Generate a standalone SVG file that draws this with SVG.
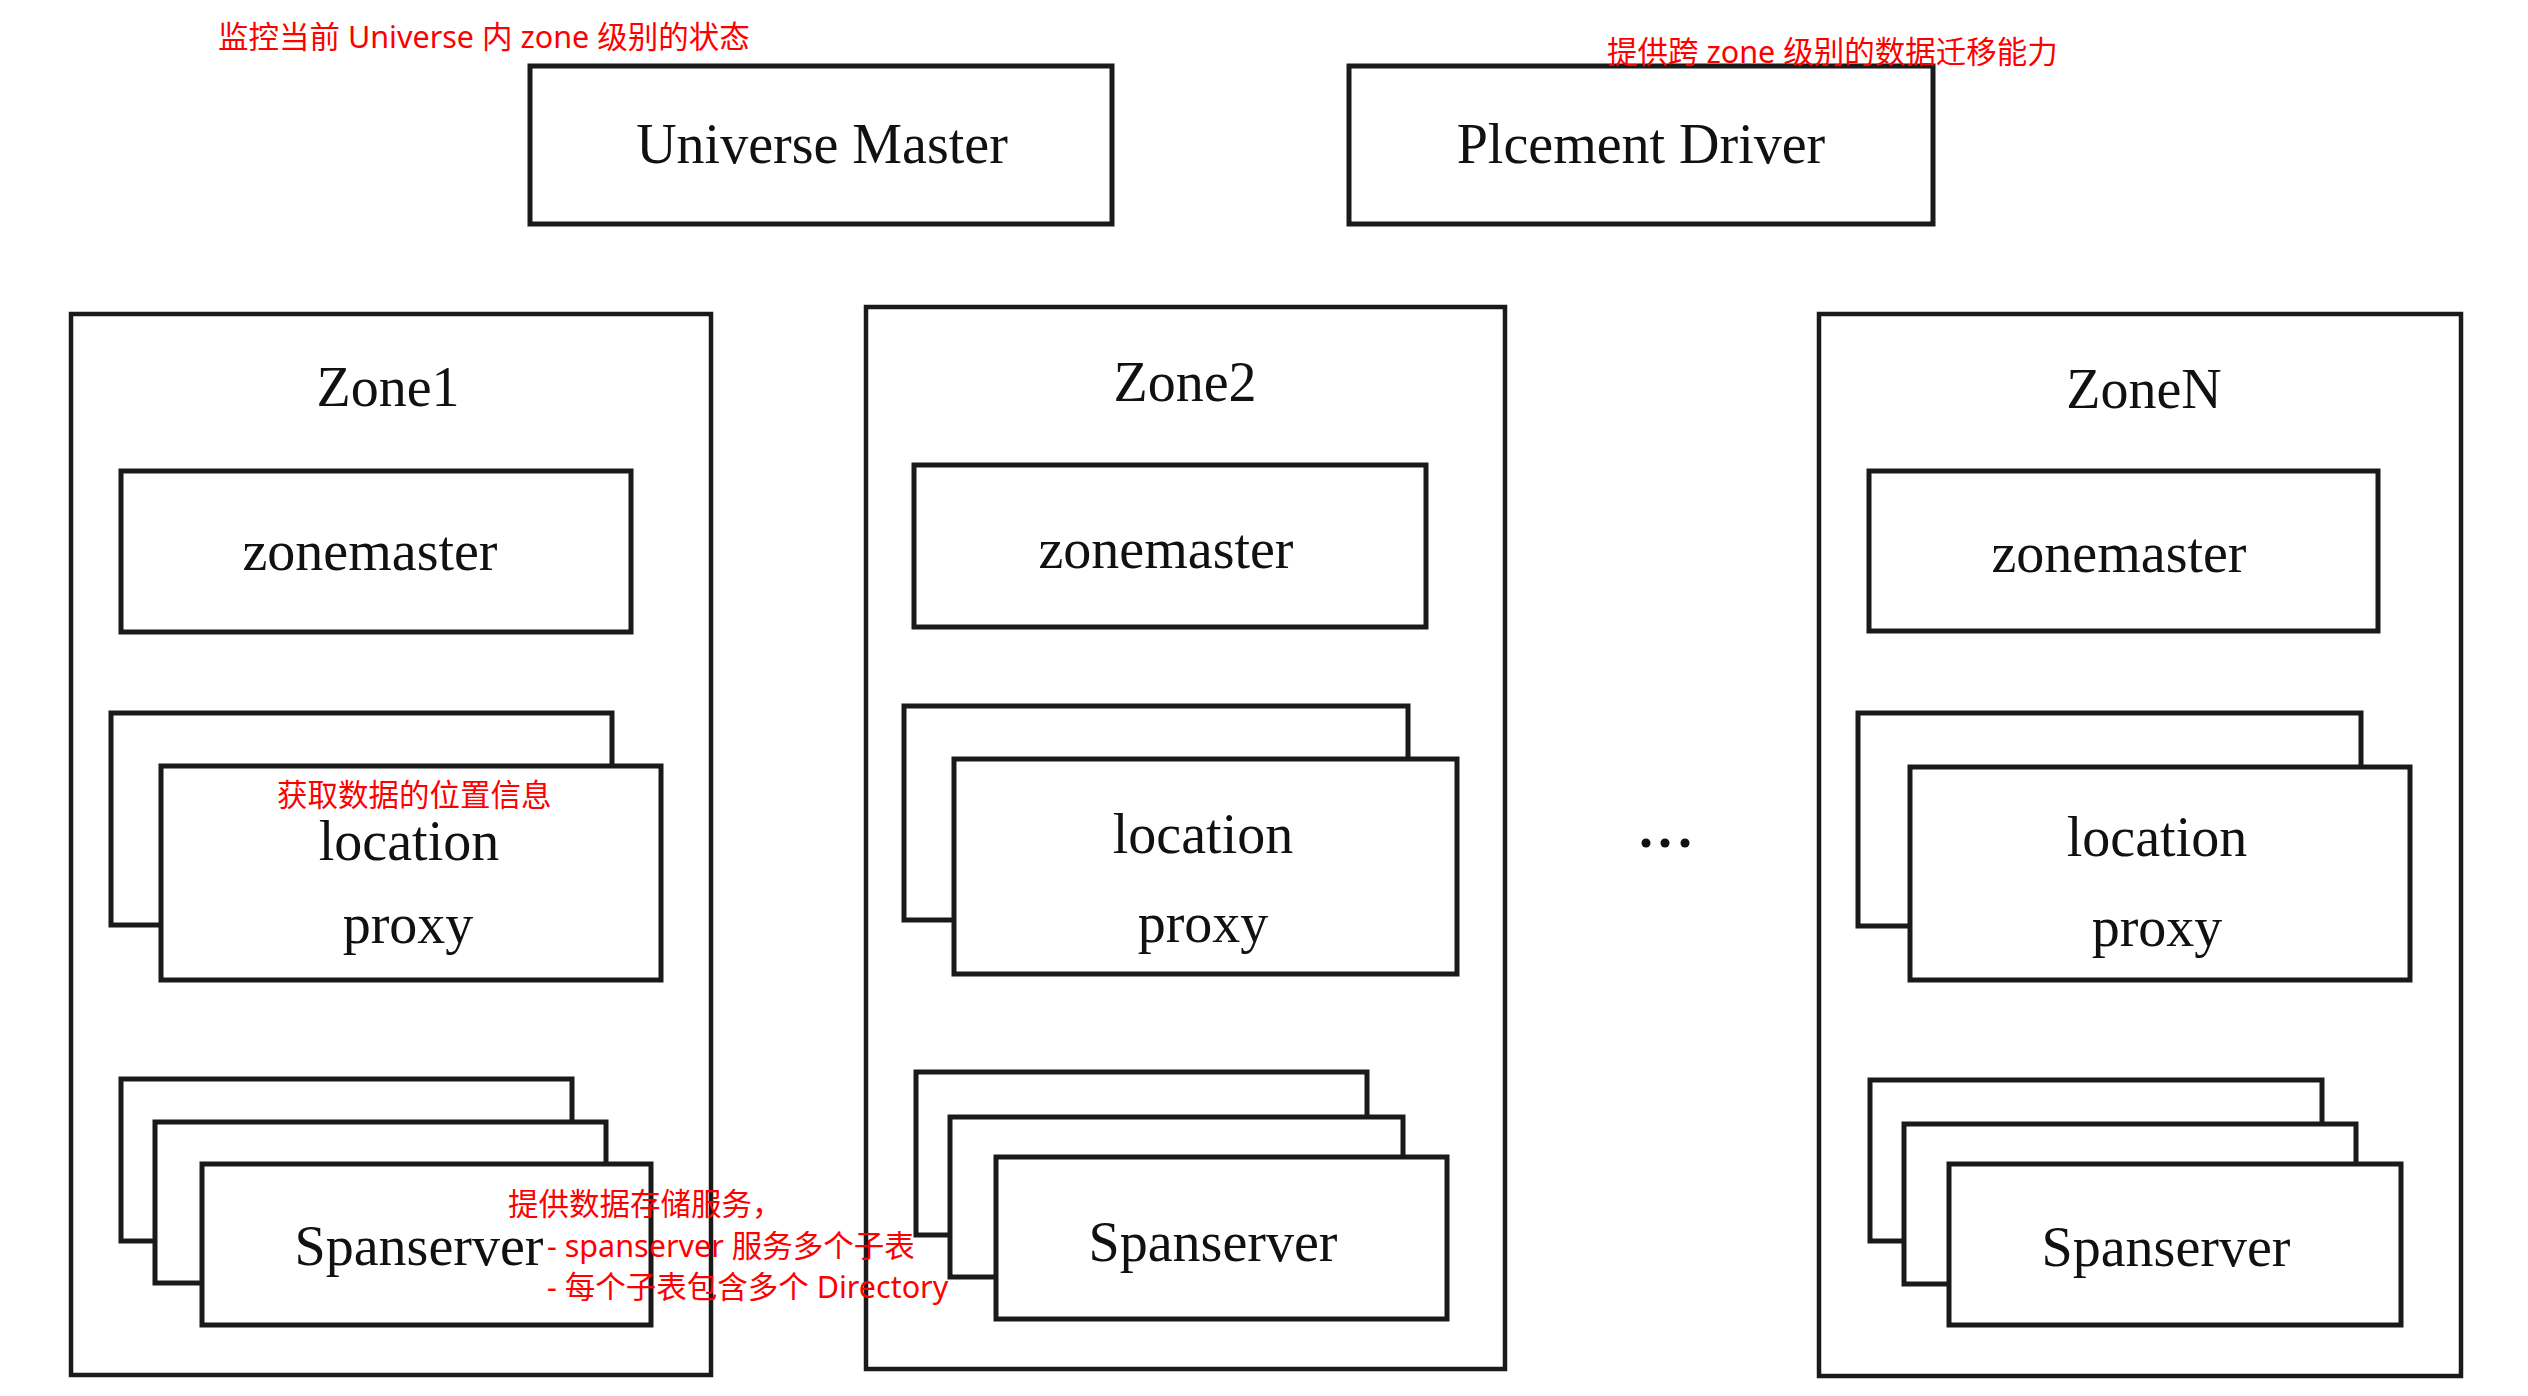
<svg xmlns="http://www.w3.org/2000/svg" width="2528" height="1396" viewBox="0 0 2528 1396">
<style>
.box{fill:#fff;stroke:#1a1a1a;stroke-width:5}
.zone{fill:#fff;stroke:#1a1a1a;stroke-width:4.5}
.lbl{font-family:"Liberation Serif","Times New Roman",serif;font-size:56px;fill:#111;text-anchor:middle}
.note{font-family:"Noto Sans","Noto Sans CJK SC",sans-serif;font-size:30.5px;fill:#ff0000}
</style>
<rect width="2528" height="1396" fill="#fff"/>

<g id="universe-master">
<rect class="box" x="530" y="66" width="582" height="158"/>
<text class="lbl" x="822" y="163">Universe Master</text>
</g>
<g id="placement-driver">
<rect class="box" x="1349" y="66" width="584" height="158"/>
<text class="lbl" x="1641" y="163">Plcement Driver</text>
</g>

<g id="zone1">
<rect class="zone" x="71" y="314" width="640" height="1061"/>
<text class="lbl" x="388" y="406">Zone1</text>
<g id="zone1-zonemaster">
<rect class="box" x="121" y="471" width="510" height="161"/>
<text class="lbl" x="370" y="570">zonemaster</text>
</g>
<g id="zone1-locationproxy">
<rect class="box" x="111" y="713" width="501" height="212"/>
<rect class="box" x="161" y="766" width="500" height="214"/>
<text class="lbl" x="409" y="860">location</text>
<text class="lbl" x="408" y="943">proxy</text>
</g>
<g id="zone1-spanserver">
<rect class="box" x="121" y="1079" width="451" height="162"/>
<rect class="box" x="155" y="1122" width="451" height="161"/>
<rect class="box" x="202" y="1164" width="449" height="161"/>
<text class="lbl" x="419" y="1265">Spanserver</text>
</g>
</g>

<g id="zone2">
<rect class="zone" x="866" y="307" width="639" height="1062"/>
<text class="lbl" x="1185" y="401">Zone2</text>
<g id="zone2-zonemaster">
<rect class="box" x="914" y="465" width="512" height="162"/>
<text class="lbl" x="1166" y="568">zonemaster</text>
</g>
<g id="zone2-locationproxy">
<rect class="box" x="904" y="706" width="504" height="214"/>
<rect class="box" x="954" y="759" width="503" height="215"/>
<text class="lbl" x="1203" y="853">location</text>
<text class="lbl" x="1203" y="942">proxy</text>
</g>
<g id="zone2-spanserver">
<rect class="box" x="916" y="1072" width="451" height="163"/>
<rect class="box" x="950" y="1117" width="453" height="160"/>
<rect class="box" x="996" y="1157" width="451" height="162"/>
<text class="lbl" x="1213" y="1261">Spanserver</text>
</g>
</g>

<g id="ellipsis">
<circle cx="1646" cy="843" r="4.5" fill="#111"/>
<circle cx="1665" cy="843" r="4.5" fill="#111"/>
<circle cx="1685" cy="843" r="4.5" fill="#111"/>
</g>

<g id="zoneN">
<rect class="zone" x="1819" y="314" width="642" height="1062"/>
<text class="lbl" x="2144" y="408">ZoneN</text>
<g id="zoneN-zonemaster">
<rect class="box" x="1869" y="471" width="509" height="160"/>
<text class="lbl" x="2119" y="572">zonemaster</text>
</g>
<g id="zoneN-locationproxy">
<rect class="box" x="1858" y="713" width="503" height="213"/>
<rect class="box" x="1910" y="767" width="500" height="213"/>
<text class="lbl" x="2157" y="856">location</text>
<text class="lbl" x="2157" y="946">proxy</text>
</g>
<g id="zoneN-spanserver">
<rect class="box" x="1870" y="1080" width="452" height="161"/>
<rect class="box" x="1904" y="1124" width="452" height="160"/>
<rect class="box" x="1949" y="1164" width="452" height="161"/>
<text class="lbl" x="2166" y="1266">Spanserver</text>
</g>
</g>

<g id="connectors"></g>

<g id="annotations">
<text class="note" x="218" y="48">监控当前 Universe 内 zone 级别的状态</text>
<text class="note" x="1607" y="63">提供跨 zone 级别的数据迁移能力</text>
<text class="note" x="277" y="806">获取数据的位置信息</text>
<text class="note" x="508" y="1215">提供数据存储服务，</text>
<text class="note" x="547" y="1257">- spanserver 服务多个子表</text>
<text class="note" x="547" y="1298">- 每个子表包含多个 Directory</text>
</g>
</svg>
